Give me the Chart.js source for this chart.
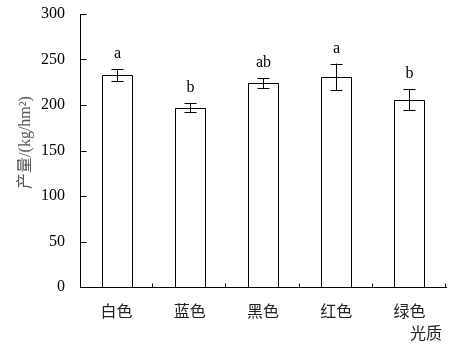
<!DOCTYPE html>
<html>
<head>
<meta charset="utf-8">
<script src="https://cdn.jsdelivr.net/npm/chart.js@4/dist/chart.umd.min.js"></script>
<style>
  html, body { margin: 0; padding: 0; background: #fff; }
  #wrap { width: 466px; height: 344px; position: relative; }
</style>
</head>
<body>
<div id="wrap"><canvas id="chart"></canvas></div>
<script>
const categories = ['白色', '蓝色', '黑色', '红色', '绿色'];
const yieldValues = [233, 197, 224, 231, 206];
const errorValues = [6.5, 5, 5.5, 14.5, 11.5];
const letters = ['a', 'b', 'ab', 'a', 'b'];
const yTicks = [0, 50, 100, 150, 200, 250, 300];

const serif = '"Liberation Serif", "Times New Roman", "Noto Sans CJK SC", serif';

// crisp bar outlines, error bars, significance letters and inward tick marks
const extras = {
  id: 'extras',
  afterDatasetsDraw(chart) {
    const { ctx, scales: { x, y } } = chart;
    const bars = chart.getDatasetMeta(0).data;
    ctx.save();
    ctx.strokeStyle = '#000';
    ctx.lineWidth = 1;
    ctx.fillStyle = '#000';
    ctx.font = '16px ' + serif;
    ctx.textAlign = 'center';
    ctx.textBaseline = 'middle';
    bars.forEach(b => {
      const l = Math.round(b.x - b.width / 2) + 0.5;
      const r = Math.round(b.x + b.width / 2) + 0.5;
      const t = Math.round(b.y) + 0.5;
      const bt = Math.round(b.base) + 0.5;
      ctx.beginPath();
      ctx.moveTo(l, bt); ctx.lineTo(l, t); ctx.lineTo(r, t); ctx.lineTo(r, bt);
      ctx.stroke();
    });
    yieldValues.forEach((v, i) => {
      const cx = Math.round(x.getPixelForValue(i)) + 0.5;
      const top = y.getPixelForValue(v + errorValues[i]);
      const bot = y.getPixelForValue(v - errorValues[i]);
      ctx.beginPath();
      ctx.moveTo(cx, top); ctx.lineTo(cx, bot);
      ctx.moveTo(cx - 6, Math.round(top) + 0.5); ctx.lineTo(cx + 6, Math.round(top) + 0.5);
      ctx.moveTo(cx - 6, Math.round(bot) + 0.5); ctx.lineTo(cx + 6, Math.round(bot) + 0.5);
      ctx.stroke();
      ctx.fillText(letters[i], cx, top - 15);
    });
    // y ticks pointing inward
    const ax = Math.round(x.left) + 0.5;
    yTicks.forEach(t => {
      const py = Math.round(y.getPixelForValue(t)) + 0.5;
      ctx.beginPath();
      ctx.moveTo(ax, py); ctx.lineTo(ax + 6, py);
      ctx.stroke();
    });
    // x ticks between categories pointing inward
    const step = (x.right - x.left) / categories.length;
    const by = Math.round(y.bottom) + 0.5;
    for (let i = 1; i <= categories.length; i++) {
      const px = Math.round(x.left + step * i) - 0.5;
      ctx.beginPath();
      ctx.moveTo(px, by); ctx.lineTo(px, by - 4);
      ctx.stroke();
    }
    ctx.restore();
  }
};

new Chart(document.getElementById('chart'), {
  type: 'bar',
  data: {
    labels: categories,
    datasets: [{
      data: yieldValues,
      backgroundColor: '#fff',
      borderWidth: 0,
      barPercentage: 0.41,
      categoryPercentage: 1
    }]
  },
  options: {
    responsive: true,
    maintainAspectRatio: false,
    animation: false,
    layout: { padding: { top: 14, right: 20, left: 0, bottom: 0 } },
    plugins: { legend: { display: false }, tooltip: { enabled: false } },
    scales: {
      x: {
        grid: { display: false, drawTicks: false },
        border: { display: true, color: '#000', width: 1 },
        ticks: {
          color: '#222',
          font: { size: 16, family: serif },
          padding: 16
        },
        title: {
          display: true,
          text: '光质 ',
          align: 'end',
          color: '#222',
          font: { size: 16, family: serif },
          padding: { top: 1, bottom: 0 }
        },
        afterFit(scale) { scale.height = 57; }
      },
      y: {
        min: 0,
        max: 300,
        grid: { display: false, drawTicks: false },
        border: { display: true, color: '#000', width: 1 },
        ticks: {
          stepSize: 50,
          color: '#000',
          font: { size: 16, family: serif },
          padding: 15
        },
        title: {
          display: true,
          text: '    产量/(kg/hm²)',
          color: '#555',
          font: { size: 16, family: serif },
          padding: { top: 16, bottom: 0 }
        },
        afterFit(scale) {
          scale.width = 80;
          scale.paddingTop = 0;
          scale.paddingBottom = 0;
        }
      }
    }
  },
  plugins: [extras]
});
</script>
</body>
</html>
